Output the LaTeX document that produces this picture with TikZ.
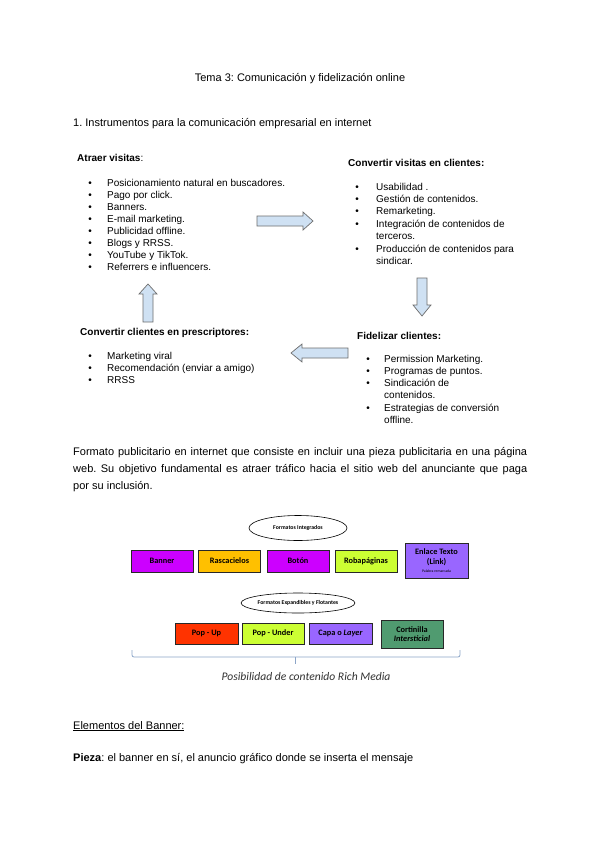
\documentclass[tikz,border=0pt]{standalone}
\usepackage{fontspec}
\setmainfont{Liberation Sans}
\newfontfamily\calfont{Carlito}
\usetikzlibrary{shapes.geometric}
\definecolor{arrfill}{RGB}{207,225,243}
\definecolor{arrdraw}{RGB}{110,110,110}
\definecolor{cmag}{RGB}{204,0,255}
\definecolor{cora}{RGB}{255,192,0}
\definecolor{clime}{RGB}{204,255,51}
\definecolor{cpur}{RGB}{153,102,255}
\definecolor{cred}{RGB}{255,51,0}
\definecolor{cgreen}{RGB}{80,155,112}
\definecolor{bracec}{RGB}{140,165,200}
\definecolor{boxline}{RGB}{40,40,40}
\frenchspacing
\begin{document}
\begin{tikzpicture}[x=1pt,y=-1pt,
  txt/.style={anchor=base west, inner sep=0, font=\fontsize{11}{13}\selectfont},
  li/.style={anchor=base west, inner sep=0, font=\fontsize{10}{12}\selectfont},
  hd/.style={anchor=base west, inner sep=0, font=\fontsize{10}{12}\selectfont\bfseries},
  bul/.style={anchor=base, inner sep=0, font=\fontsize{10}{12}\selectfont},
  blockarrow/.style={fill=arrfill, draw=arrdraw, line width=0.7pt, line join=miter},
  fmt/.style={draw=boxline, line width=0.9pt, minimum width=62pt, minimum height=22pt, inner sep=0,
    font=\calfont\bfseries\fontsize{8.3}{9.5}\selectfont, align=center},
  oval/.style={ellipse, draw=black, line width=0.6pt, inner sep=0,
    font=\calfont\bfseries\fontsize{5.8}{6.5}\selectfont}
]
\useasboundingbox (0,0) rectangle (600,848);
\fill[white] (0,0) rectangle (600,848);

% title and section
\node[anchor=base, inner sep=0, font=\fontsize{11}{13}\selectfont] (title) at (300,82) {Tema 3: Comunicación y fidelización online};
\node[txt] (sec1) at (73,127) {1. Instrumentos para la comunicación empresarial en internet};

% Atraer visitas
\node[hd] (h1) at (77,161) {Atraer visitas\mdseries:};
\foreach \t [count=\i from 0] in {Posicionamiento natural en buscadores.,Pago por click.,Banners.,E-mail marketing.,Publicidad offline.,Blogs y RRSS.,YouTube y TikTok.,Referrers e influencers.}{
  \node[bul] (b1\i) at (90,186+12*\i) {\textbullet};
  \node[li] (t1\i) at (107,186+12*\i) {\t};
}

% Convertir visitas en clientes
\node[hd] (h2) at (348,166) {Convertir visitas en clientes:};
\foreach \yy in {190,202,214,227,252}{
  \node[bul] at (357,\yy) {\textbullet};
}
\node[li] (t20) at (376,190) {Usabilidad .};
\node[li] (t21) at (376,202) {Gestión de contenidos.};
\node[li] (t22) at (376,214) {Remarketing.};
\node[li] (t23) at (376,227) {Integración de contenidos de};
\node[li] (t24) at (376,239) {terceros.};
\node[li] (t25) at (376,252) {Producción de contenidos para};
\node[li] (t26) at (376,264) {sindicar.};

% Convertir clientes en prescriptores
\node[hd] (h3) at (80,335) {Convertir clientes en prescriptores:};
\foreach \t [count=\i from 0] in {Marketing viral,Recomendación (enviar a amigo),RRSS}{
  \node[bul] (b3\i) at (90,359+12*\i) {\textbullet};
  \node[li] (t3\i) at (107,359+12*\i) {\t};
}

% Fidelizar clientes
\node[hd] (h4) at (357,339) {Fidelizar clientes:};
\foreach \yy in {362,374,386,411}{
  \node[bul] at (368,\yy) {\textbullet};
}
\node[li] (t40) at (384,362) {Permission Marketing.};
\node[li] (t41) at (384,374) {Programas de puntos.};
\node[li] (t42) at (384,386) {Sindicación de};
\node[li] (t43) at (384,398) {contenidos.};
\node[li] (t44) at (384,411) {Estrategias de conversión};
\node[li] (t45) at (384,423) {offline.};

% block arrows
\draw[blockarrow] (257,216) -- (303,216) -- (303,212) -- (313,221) -- (303,230) -- (303,226) -- (257,226) -- cycle;
\draw[blockarrow] (417,278) -- (427,278) -- (427,305) -- (431,305) -- (422,316) -- (413,305) -- (417,305) -- cycle;
\draw[blockarrow] (143,322) -- (143,294) -- (139,294) -- (148,284) -- (157,294) -- (153,294) -- (153,322) -- cycle;
\draw[blockarrow] (348,348) -- (302,348) -- (302,344) -- (291,353) -- (302,362) -- (302,358) -- (348,358) -- cycle;

% paragraph
\node[txt] (p1) at (73,455) {\makebox[454pt][s]{Formato publicitario en internet que consiste en incluir una pieza publicitaria en una página}};
\node[txt] (p2) at (73,472) {\makebox[454pt][s]{web. Su objetivo fundamental es atraer tráfico hacia el sitio web del anunciante que paga}};
\node[txt] (p3) at (73,489) {por su inclusión.};

% formats diagram
\node[oval, minimum width=98pt, minimum height=25pt] (e1) at (298,528) {Formatos Integrados};
\node[fmt, fill=cmag] (banner) at (162,561) {Banner};
\node[fmt, fill=cora] (rasca) at (229.5,561) {Rascacielos};
\node[fmt, fill=cmag] (boton) at (298,561) {Botón};
\node[fmt, fill=clime] (roba) at (366,561) {Robapáginas};
\node[fmt, fill=cpur, minimum height=35pt, minimum width=63pt] (enlace) at (436.5,560.5) {Enlace Texto\\[1pt](Link)\\[-1.5pt]{\mdseries\fontsize{3.8}{4}\selectfont Palabra remarcada}};

\node[oval, minimum width=113pt, minimum height=20pt] (e2) at (298,603) {Formatos Expandibles y Flotantes};
\node[fmt, fill=cred, minimum height=21pt, minimum width=63pt] (popup) at (206.5,633.5) {Pop - Up};
\node[fmt, fill=clime, minimum height=21pt] (popunder) at (273,633.5) {Pop - Under};
\node[fmt, fill=cpur, minimum height=21pt, minimum width=63pt] (capa) at (340.5,633.5) {Capa o \textit{Layer}};
\node[fmt, fill=cgreen, minimum height=28pt] (cort) at (412,634) {Cortinilla\\\textit{Intersticial}};

% brace
\coordinate (brL) at (132,650);
\coordinate (brR) at (460,650);
\coordinate (brM) at (295,657);
\coordinate (brT) at (295,664);
\draw[bracec, line width=0.8pt, rounded corners=2pt] (brL) |- (brM) -| (brR);
\draw[bracec, line width=0.8pt] (brM) -- (brT);
\node[anchor=base, inner sep=0, font=\calfont\itshape\fontsize{11.6}{13}\selectfont, text={rgb,255:red,50;green,50;blue,50}] (rich) at (306,680) {Posibilidad de contenido Rich Media};

% bottom text
\node[txt] (elem) at (73,729) {\underline{Elementos del Banner:}};
\node[txt] (pieza) at (73,761) {\textbf{Pieza}: el banner en sí, el anuncio gráfico donde se inserta el mensaje};
\end{tikzpicture}
\end{document}
